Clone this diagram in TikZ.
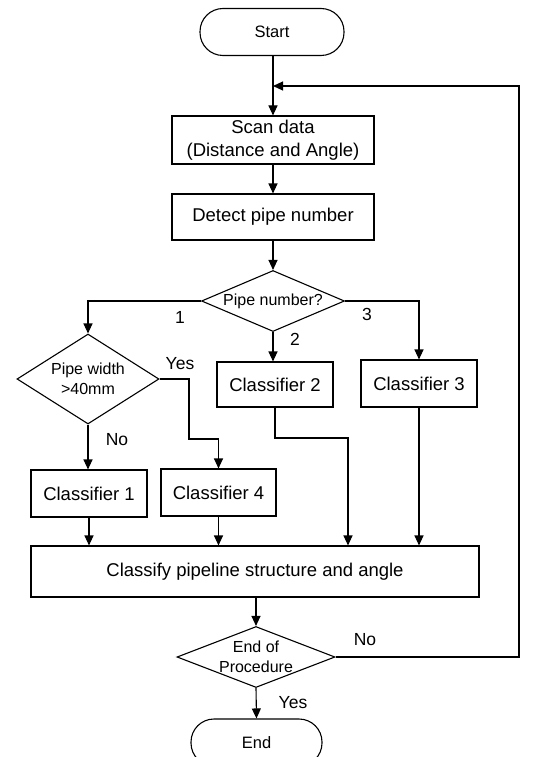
\documentclass[tikz,border=0pt]{standalone}
\usepackage{fontspec}
\setmainfont{Liberation Sans}
\usetikzlibrary{shapes.geometric,arrows.meta}
\begin{document}
\begin{tikzpicture}[x=1pt,y=-1pt,
  every node/.style={font=\fontsize{18.5}{23}\selectfont, text=black},
  box/.style={draw, line width=1.1pt, rectangle, inner sep=0pt, align=center},
  term/.style={draw, line width=1.1pt, rectangle, rounded corners=23pt, inner sep=0pt, font=\fontsize{16.5}{20}\selectfont},
  dec/.style={draw, line width=1.1pt, diamond, inner sep=0pt, align=center, font=\fontsize{16}{20}\selectfont},
  lbl/.style={inner sep=0pt, font=\fontsize{17.5}{21}\selectfont},
  arr/.style={line width=1.1pt, -{Triangle[length=10pt,width=9pt]}},
  ln/.style={line width=1.1pt}
]
\useasboundingbox (0,0) rectangle (538,757);
% nodes
\node[term, minimum width=144pt, minimum height=47pt] (start) at (272,32) {Start};
\node[box, minimum width=202pt, minimum height=48pt] (scan) at (273,140) {Scan data\\(Distance and Angle)};
\node[box, minimum width=202pt, minimum height=46pt] (detect) at (273,217) {Detect pipe number};
\node[dec, minimum width=143pt, minimum height=61pt, aspect=2.34] (pnum) at (273,301) {Pipe number?};
\node[dec, minimum width=142pt, minimum height=90pt, aspect=1.6] (pw) at (88,379) {Pipe width\\>40mm};
\node[box, minimum width=116pt, minimum height=47pt] (c1) at (89,493.5) {Classifier 1};
\node[box, minimum width=115pt, minimum height=47pt] (c4) at (218.5,492.5) {Classifier 4};
\node[box, minimum width=116pt, minimum height=45pt] (c2) at (275,384.5) {Classifier 2};
\node[box, minimum width=116pt, minimum height=47pt] (c3) at (419,383.5) {Classifier 3};
\node[box, minimum width=448pt, minimum height=51pt] (cls) at (255,571.5) {Classify pipeline structure and angle};
\node[dec, minimum width=158pt, minimum height=61pt, aspect=2.6] (eop) at (256,657) {End of\\Procedure};
\node[term, minimum width=131pt, minimum height=47pt] (end) at (256.5,742.5) {End};
% labels
\node[lbl] (l1) at (180,317) {1};
\node[lbl] (l2) at (295,339) {2};
\node[lbl] (l3) at (367,314) {3};
\node[lbl] (lyes1) at (180,364) {Yes};
\node[lbl] (lno1) at (117,440) {No};
\node[lbl] (lno2) at (365,640) {No};
\node[lbl] (lyes2) at (293,703) {Yes};
% coordinates
\coordinate (join) at (273,86);
\coordinate (loopc) at (519,86);
\coordinate (ya) at (189,439);
\coordinate (c2a) at (348,438);
% connectors
\draw[arr] (start.south -| scan.north) -- (scan.north);
\draw[arr] (eop.east) -| (loopc) -- (join);
\draw[arr] (scan) -- (detect);
\draw[arr] (detect) -- (pnum);
\draw[arr] (pnum.west) -| (pw.north);
\draw[arr] (pnum.south) -- (pnum.south |- c2.north);
\draw[arr] (pnum.east) -| (c3.north);
\draw[arr] (pw.east) -| (ya) -| (c4.north);
\draw[arr] (pw.south) -- (pw.south |- c1.north);
\draw[arr] (c1.south) -- (c1.south |- cls.north);
\draw[arr] (c4.south) -- (c4.south |- cls.north);
\draw[arr] (c2.south) |- (c2a) -- (c2a |- cls.north);
\draw[arr] (c3.south) -- (c3.south |- cls.north);
\draw[arr] (cls.south -| eop.north) -- (eop.north);
\draw[arr] (eop.south) -- (end.north);
\end{tikzpicture}
\end{document}
